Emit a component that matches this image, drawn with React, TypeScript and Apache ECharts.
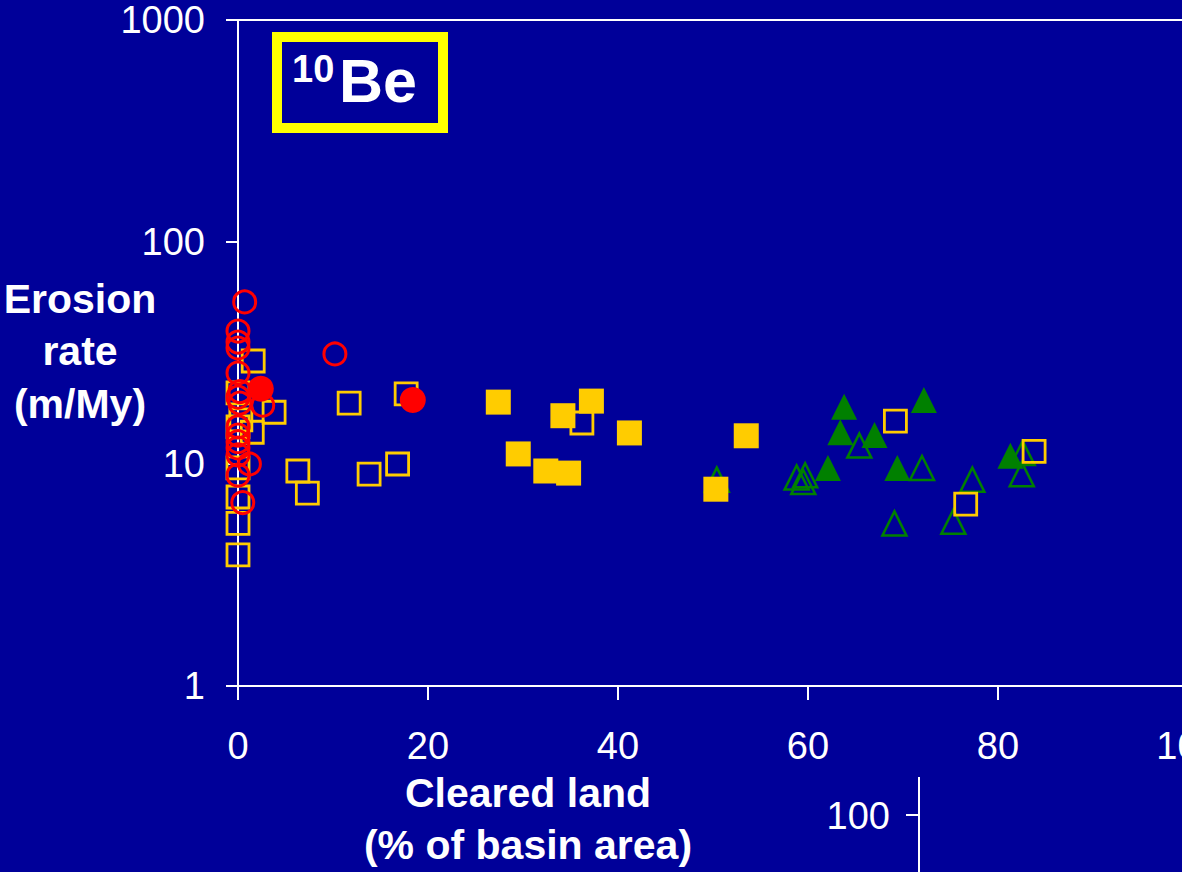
import React, { useEffect, useRef } from "react";
import * as echarts from "echarts";

// x: cleared land (% of basin area), y: erosion rate (m/My)
const openSquares: [number, number][] = [
  [1.6, 29.1], [0, 20.9], [3.8, 17.1], [1.5, 13.9], [0, 14.7], [0.3, 15.8],
  [0, 9.6], [0, 7.1], [0, 5.4], [0, 3.9], [6.3, 9.3], [7.3, 7.4], [13.8, 9.0],
  [16.8, 10.0], [11.7, 18.8], [17.7, 20.7], [36.2, 15.3], [69.2, 15.6],
  [83.8, 11.4], [76.6, 6.6],
];
const filledSquares: [number, number][] = [
  [27.4, 19.0], [29.5, 11.1], [32.4, 9.3], [34.8, 9.1], [34.2, 16.5],
  [37.2, 19.2], [41.2, 13.8], [53.5, 13.4], [50.3, 7.7],
];
const openCircles: [number, number][] = [
  [0.7, 53.7], [0, 39.7], [0, 35.4], [0, 33.3], [0, 25.7], [0.2, 21.2],
  [0, 20.0], [0.2, 18.8], [2.6, 18.4], [0, 14.7], [0, 13.5], [0, 12.6],
  [0, 11.8], [0, 11.0], [1.2, 10.0], [0, 8.9], [0.5, 6.7], [10.2, 31.3],
];
const filledCircles: [number, number][] = [[2.4, 21.8], [18.4, 19.4]];
const filledTriangles: [number, number][] = [
  [63.8, 18.1], [63.4, 13.9], [67.0, 13.5], [62.1, 9.6], [69.4, 9.6],
  [72.2, 19.4], [81.3, 10.9],
];
const openTriangles: [number, number][] = [
  [50.4, 8.5], [58.8, 8.7], [59.7, 8.9], [59.5, 8.3], [65.4, 12.1],
  [72.0, 9.6], [77.3, 8.5], [69.1, 5.4], [75.3, 5.5], [82.5, 9.0], [82.6, 11.2],
];
const yTitleLines = ["Erosion", "rate", "(m/My)"];
const xTitleLines = ["Cleared land", "(% of basin area)"];

const BG = "#000099";
const YELLOW = "#FFCC00";
const RED = "#FF0000";
const GREEN = "#008000";
const FONT = "Liberation Sans, Arial, sans-serif";

export default function App() {
  const ref = useRef<HTMLDivElement>(null);
  useEffect(() => {
    if (!ref.current) return;
    const chart = echarts.init(ref.current, undefined, { renderer: "svg" });
    const none = "rgba(0,0,0,0)";
    const sc = (data: [number, number][], symbol: string, size: number, itemStyle: any) => ({
      type: "scatter", data, symbol, symbolSize: size,
      itemStyle: { opacity: 1, ...itemStyle },
      emphasis: { disabled: true },
    });
    chart.setOption({
      animation: false,
      backgroundColor: BG,
      grid: { left: 238, top: 20, width: 950, height: 666, outerBoundsMode: "none", containLabel: false },
      xAxis: [
        {
          type: "value", min: 0, max: 100, interval: 20, position: "bottom",
          axisLine: { show: true, lineStyle: { color: "#fff", width: 2 } },
          axisTick: { show: true, inside: false, length: 14, lineStyle: { color: "#fff", width: 2 } },
          axisLabel: { color: "#fff", fontSize: 38, fontFamily: FONT, margin: 41, formatter: (v: number) => String(v) },
          splitLine: { show: false },
        },
        {
          type: "value", min: 0, max: 100, position: "top",
          axisLine: { show: true, lineStyle: { color: "#fff", width: 2 } },
          axisTick: { show: false }, axisLabel: { show: false }, splitLine: { show: false },
        },
      ],
      yAxis: {
        type: "log", logBase: 10, min: 1, max: 1000,
        axisLine: { show: true, lineStyle: { color: "#fff", width: 2 } },
        axisTick: { show: true, inside: false, length: 12, lineStyle: { color: "#fff", width: 2 } },
        axisLabel: { color: "#fff", fontSize: 38, fontFamily: FONT, margin: 33, formatter: (v: number) => String(Math.round(v)) },
        splitLine: { show: false },
        minorTick: { show: false },
      },
      series: [
        sc(openTriangles, "triangle", 24, { color: none, borderColor: GREEN, borderWidth: 2.5 }),
        sc(filledTriangles, "triangle", 26, { color: GREEN }),
        sc(openSquares, "rect", 22, { color: none, borderColor: YELLOW, borderWidth: 2.8 }),
        sc(filledSquares, "rect", 25, { color: YELLOW }),
        sc(openCircles, "circle", 22, { color: none, borderColor: RED, borderWidth: 3 }),
        sc(filledCircles, "circle", 26, { color: RED }),
      ],
      graphic: [
        { type: "rect", shape: { x: 277, y: 37, width: 166, height: 91 },
          style: { fill: none, stroke: "#FFFF00", lineWidth: 10 } },
        { type: "text", x: 292, y: 69,
          style: { text: "10", fill: "#fff", font: `bold 38px ${FONT}`, textAlign: "left", textVerticalAlign: "middle" } },
        { type: "text", x: 339, y: 81,
          style: { text: "Be", fill: "#fff", font: `bold 61px ${FONT}`, textAlign: "left", textVerticalAlign: "middle" } },
        ...yTitleLines.map((t, i) => ({
          type: "text", x: 80, y: [299, 351, 404][i],
          style: { text: t, fill: "#fff", font: `bold 41px ${FONT}`, textAlign: "center", textVerticalAlign: "middle" },
        })),
        ...xTitleLines.map((t, i) => ({
          type: "text", x: 528, y: [793, 845][i],
          style: { text: t, fill: "#fff", font: `bold 41px ${FONT}`, textAlign: "center", textVerticalAlign: "middle" },
        })),
        { type: "text", x: 890, y: 816,
          style: { text: "100", fill: "#fff", font: `38px ${FONT}`, textAlign: "right", textVerticalAlign: "middle" } },
        { type: "line", shape: { x1: 906, y1: 815, x2: 919, y2: 815 }, style: { stroke: "#fff", lineWidth: 2 } },
        { type: "line", shape: { x1: 919, y1: 777, x2: 919, y2: 872 }, style: { stroke: "#fff", lineWidth: 2 } },
      ],
    });
    return () => chart.dispose();
  }, []);
  return (
    <div
      ref={ref}
      style={{ position: "fixed", left: 0, top: 0, width: 1182, height: 872 }}
    />
  );
}
